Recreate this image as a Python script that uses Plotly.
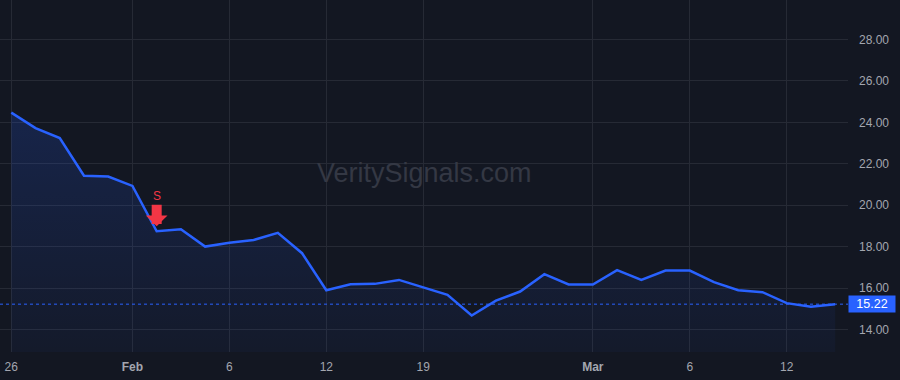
import plotly.graph_objects as go

# ---- data ----
values = [24.47, 23.72, 23.24, 21.42, 21.38, 20.93, 18.74, 18.84, 18.00, 18.19,
          18.32, 18.66, 17.68, 15.89, 16.18, 16.20, 16.39, 16.02, 15.67, 14.67,
          15.39, 15.83, 16.67, 16.17, 16.17, 16.86, 16.39, 16.84, 16.84, 16.28,
          15.89, 15.80, 15.27, 15.09, 15.22]
bar_index = list(range(len(values)))
tick_index = [0, 5, 9, 13, 17, 24, 28, 32]
tick_labels = ["26", "<b>Feb</b>", "6", "12", "19", "<b>Mar</b>", "6", "12"]
y_ticks = [14, 16, 18, 20, 22, 24, 26, 28]
y_tick_labels = ["14.00", "16.00", "18.00", "20.00", "22.00", "24.00", "26.00", "28.00"]
signal_index = 6
signal_label = "S"
last_price = values[-1]
watermark = "VeritySignals.com"

BG = "#131722"
GRID = "#262a35"
TEXT = "#a3a6af"
BLUE = "#2962FF"
RED = "#F23645"
Y_MIN, Y_MAX = 12.91, 29.906

fig = go.Figure()
fig.add_trace(go.Scatter(
    x=bar_index, y=values, mode="lines",
    line=dict(color=BLUE, width=2.5),
    fill="tozeroy",
    fillgradient=dict(type="vertical", start=Y_MIN, stop=max(values),
                      colorscale=[[0, "rgba(41,98,255,0.04)"], [1, "rgba(41,98,255,0.18)"]]),
    hoverinfo="skip", showlegend=False,
))

# last price dotted line
fig.add_shape(type="line", xref="paper", x0=0, x1=1, yref="y", y0=last_price, y1=last_price,
              line=dict(color=BLUE, width=1, dash="dot"))

# price label
fig.add_annotation(xref="paper", x=1, xanchor="left", yref="y", y=last_price,
                   text=f"{last_price:.2f}", showarrow=False,
                   bgcolor=BLUE, font=dict(color="#ffffff", size=12.5, family="Liberation Sans, Arial"),
                   width=44, height=14, borderpad=1)

# sell signal arrow
fig.add_annotation(x=bar_index[signal_index], y=values[signal_index], xref="x", yref="y",
                   text=signal_label, font=dict(color=RED, size=12, family="Liberation Sans, Arial"),
                   showarrow=True, ax=0, ay=-35, arrowcolor=RED, arrowwidth=10,
                   arrowhead=1, arrowsize=0.36, standoff=5)

# watermark
fig.add_annotation(xref="paper", yref="paper", x=0.5, y=0.508, text=watermark, showarrow=False,
                   font=dict(color="#343844", size=27, family="Liberation Sans, Arial"))

fig.update_layout(
    width=900, height=380,
    margin=dict(l=0, r=52, t=0, b=28),
    paper_bgcolor=BG, plot_bgcolor=BG,
    font=dict(family="Liberation Sans, Arial", color=TEXT, size=12),
    xaxis=dict(range=[-0.466, 34.53], tickmode="array", tickvals=tick_index, ticktext=tick_labels,
               showgrid=True, gridcolor=GRID, gridwidth=1, zeroline=False, showline=False,
               ticks="", ticklabelstandoff=6, tickfont=dict(size=12, color=TEXT), fixedrange=True),
    yaxis=dict(range=[Y_MIN, Y_MAX], side="right", tickmode="array", tickvals=y_ticks,
               ticktext=y_tick_labels, showgrid=True, gridcolor=GRID, gridwidth=1,
               zeroline=False, showline=False, ticks="", ticklabelstandoff=10,
               tickfont=dict(size=12, color=TEXT), fixedrange=True),
)

fig.write_html("out.html")
